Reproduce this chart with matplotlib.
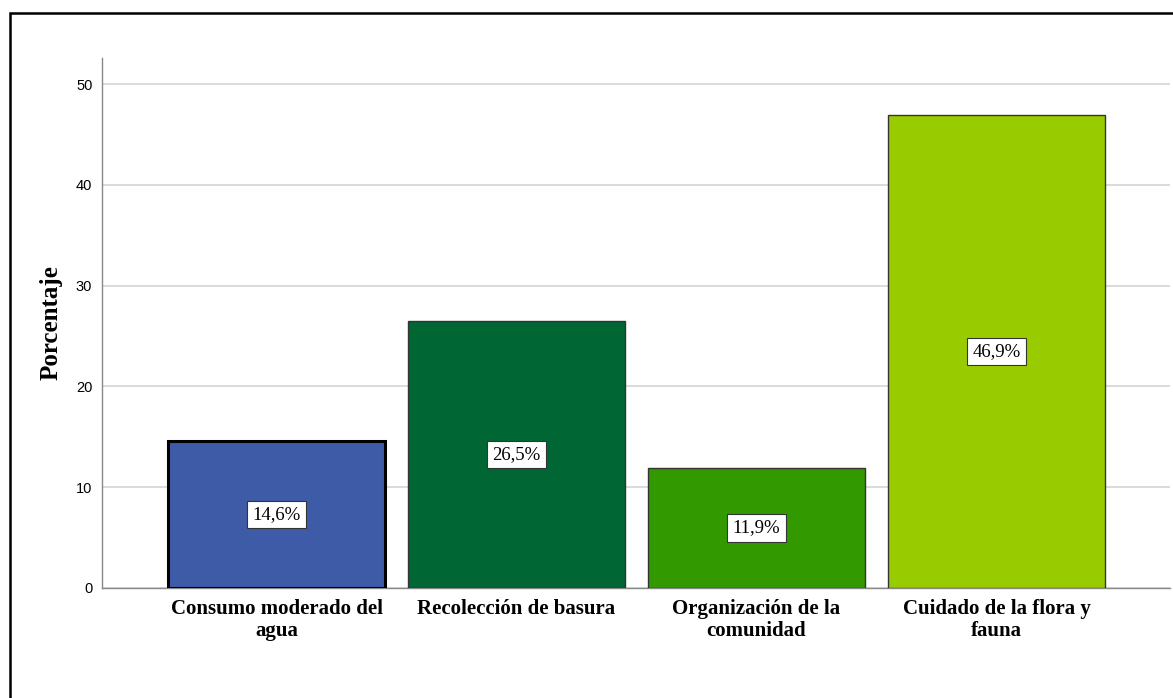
import matplotlib
matplotlib.use("Agg")
import matplotlib.pyplot as plt
from matplotlib.patches import Rectangle

categories = ["Consumo moderado del\nagua", "Recolección de basura",
              "Organización de la\ncomunidad", "Cuidado de la flora y\nfauna"]
values = [14.6, 26.5, 11.9, 46.9]
labels = ["14,6%", "26,5%", "11,9%", "46,9%"]
colors = ["#3E5BA8", "#006633", "#339900", "#99CC00"]
edgecolors = ["#000000", "#333333", "#333333", "#333333"]
linewidths = [2.2, 1.0, 1.0, 1.0]
yticks = [0, 10, 20, 30, 40, 50]

fig = plt.figure(figsize=(11.73, 6.98), dpi=100)
ax = fig.add_axes([0.087, 0.1576, 0.9104, 0.7593])

x = list(range(len(values)))
for i in x:
    ax.bar(i, values[i], width=0.904, color=colors[i], edgecolor=edgecolors[i],
           linewidth=linewidths[i], zorder=3)
    ax.text(i, values[i] / 2, labels[i], ha="center", va="center",
            family="Liberation Serif", fontsize=13.5, zorder=4,
            bbox=dict(boxstyle="square,pad=0.28", fc="white", ec="#333333", lw=0.8))

ax.set_xlim(-0.727, 3.723)
ax.set_ylim(0, 52.6)
ax.set_yticks(yticks)
ax.set_yticklabels([str(t) for t in yticks], family="Liberation Sans", fontsize=10.5)
ax.set_xticks(x)
ax.set_xticklabels(categories, family="Liberation Serif", fontweight="bold",
                   fontsize=15, linespacing=1.1)
ax.tick_params(axis="both", length=0)
ax.tick_params(axis="y", pad=7)
ax.tick_params(axis="x", pad=8)
ax.yaxis.grid(True, color="#d4d4d4", linewidth=1.2, zorder=0)
ax.set_axisbelow(True)
for s in ["top", "right"]:
    ax.spines[s].set_visible(False)
for s in ["left", "bottom"]:
    ax.spines[s].set_color("#888888")
    ax.spines[s].set_linewidth(1.0)
ax.set_ylabel("Porcentaje", family="Liberation Serif", fontweight="bold",
              fontsize=18)
ax.yaxis.set_label_coords(-0.037, 0.5)

fig.patches.append(Rectangle((10 / 1173, -0.05), 1.2, (698 - 13) / 698 + 0.05,
                             transform=fig.transFigure, fill=False,
                             edgecolor="black", linewidth=1.8))

fig.savefig("out.png", dpi=100)
